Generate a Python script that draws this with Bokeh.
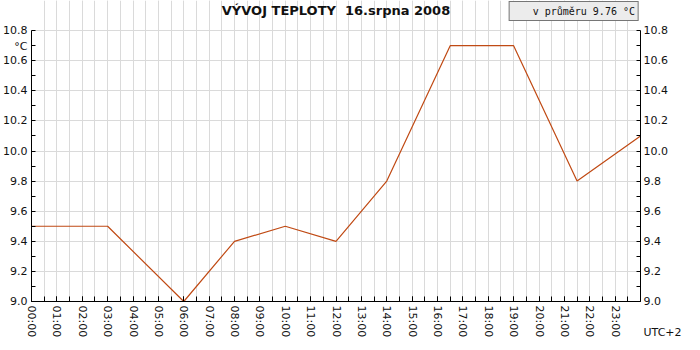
from bokeh.plotting import figure
from bokeh.models import (FixedTicker, LinearAxis, Range1d, Legend, LegendItem,
                          Label, PrintfTickFormatter, ColumnDataSource)
from bokeh.embed import file_html
from bokeh.resources import INLINE

# ---- data ----
hours = [0, 3, 6, 8, 10, 12, 14, 16.5, 19, 21.5, 24]
temps = [9.5, 9.5, 9.0, 9.4, 9.5, 9.4, 9.8, 10.7, 10.7, 9.8, 10.1]
title_text = "VÝVOJ TEPLOTY\u00a0 16.srpna 2008"
legend_text = "v průměru 9.76 °C"
unit_text = "°C"
tz_text = "UTC+2"
hour_ticks = list(range(0, 24))
hour_labels = {h: f"{h:02d}:00" for h in hour_ticks}
halfhour_ticks = [h / 2 for h in range(0, 49)]
y_major = [9.0, 9.2, 9.4, 9.6, 9.8, 10.0, 10.2, 10.4, 10.6, 10.8]
y_minor = [9.1, 9.3, 9.5, 9.7, 9.9, 10.1, 10.3, 10.5, 10.7]
y_min, y_max = 9.0, 10.8
x_min, x_max = 0, 24
y_view_top = 11.0   # headroom above the scale for title and legend

LINE = "#c04a14"
GRID = "#dadada"
FONT = "DejaVu Sans"
TXT = "#111111"

p = figure(width=684, height=340, output_backend="svg", toolbar_location=None,
           x_range=Range1d(x_min, x_max), y_range=Range1d(y_min, y_view_top),
           min_border_left=27, min_border_right=30, min_border_top=0,
           min_border_bottom=30)
p.outline_line_color = None
p.background_fill_color = "white"
p.border_fill_color = "white"

src = ColumnDataSource(dict(x=hours, y=temps))
p.line("x", "y", source=src, line_color=LINE, line_width=1.2)
key_r = p.line(x=[], y=[], line_color=LINE, line_width=2.5)

# title inside the headroom
p.add_layout(Label(x=(x_min + x_max) / 2, y=y_view_top, text=title_text,
                   text_align="center", text_baseline="top", y_offset=-2,
                   text_font=FONT, text_font_size="13px", text_font_style="bold",
                   text_color=TXT))

# x axis
xt = FixedTicker(ticks=hour_ticks, minor_ticks=halfhour_ticks)
xa = p.xaxis[0]
xa.ticker = xt
xa.major_label_overrides = hour_labels
xa.major_label_orientation = "vertical"
xa.major_tick_in = 5
xa.major_tick_out = 0
xa.minor_tick_in = 5
xa.minor_tick_out = 0
xa.axis_line_color = "black"
xa.major_tick_line_color = "black"
xa.minor_tick_line_color = "black"
xa.major_label_text_font = FONT
xa.major_label_text_font_size = "11px"
xa.major_label_text_color = TXT
xa.major_label_standoff = 4

# y axes
yt = FixedTicker(ticks=y_major, minor_ticks=y_minor)
def style_y(ax, standoff):
    ax.ticker = yt
    ax.bounds = (y_min, y_max)
    ax.formatter = PrintfTickFormatter(format="%.1f")
    ax.major_tick_in = 4
    ax.major_tick_out = 0
    ax.minor_tick_in = 4
    ax.minor_tick_out = 0
    ax.axis_line_color = "black"
    ax.major_tick_line_color = "black"
    ax.minor_tick_line_color = "black"
    ax.major_label_text_font = FONT
    ax.major_label_text_font_size = "11px"
    ax.major_label_text_color = TXT
    ax.major_label_standoff = standoff

style_y(p.yaxis[0], 4)
p.yaxis[0].major_label_overrides = {y_max: " \n10.8\n" + unit_text}
ra = LinearAxis()
style_y(ra, 3)
ra.major_label_overrides = {y_min: " \n \n9.0\n \n" + tz_text}
p.add_layout(ra, "right")

# grids
p.xgrid.ticker = xt
p.xgrid.bounds = (y_min, y_max)
p.xgrid.grid_line_color = GRID
p.xgrid.minor_grid_line_color = GRID
p.ygrid.ticker = yt
p.ygrid.grid_line_color = GRID

# legend at top right
leg = Legend(items=[LegendItem(label=legend_text, renderers=[key_r])],
             location="top_right", background_fill_color="#ececec",
             background_fill_alpha=1.0, border_line_color="black",
             border_line_width=1, label_text_font="DejaVu Sans Mono",
             label_text_font_size="10px", glyph_width=12, glyph_height=12,
             label_height=12, padding=3, margin=1, label_standoff=8,
             label_text_color=TXT)
p.add_layout(leg, "center")

open("out.html", "w").write(file_html(p, INLINE))
